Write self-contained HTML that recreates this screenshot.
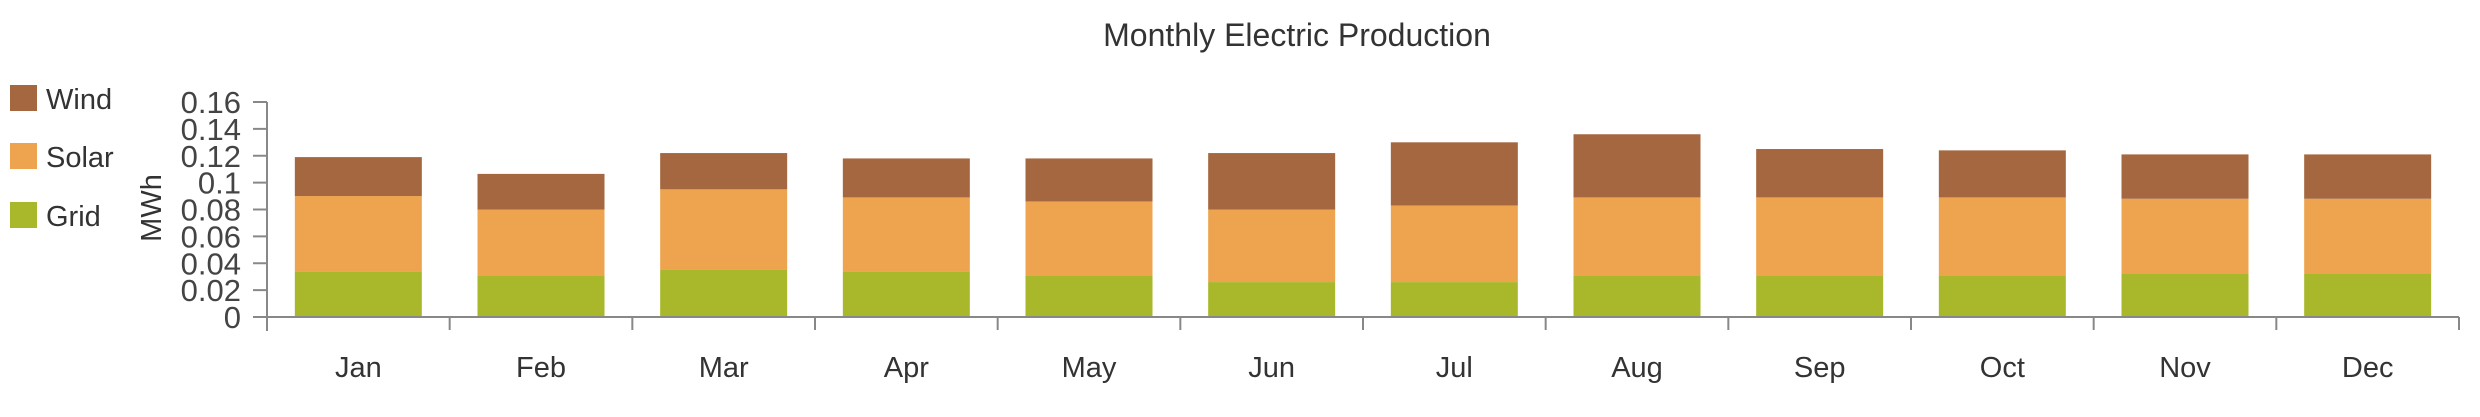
<!DOCTYPE html>
<html><head><meta charset="utf-8"><style>
body{margin:0;background:#fff;width:2480px;height:412px;overflow:hidden;font-family:"Liberation Sans",sans-serif}
</style></head><body>
<svg id="chart" width="2480" height="412" xmlns="http://www.w3.org/2000/svg">
<text x="1297" y="46" text-anchor="middle" font-size="32" fill="#333">Monthly Electric Production</text>
<g>
<rect x="10" y="85" width="27" height="26" fill="#a5673f"/>
<text x="46" y="109" font-size="29" fill="#333">Wind</text>
<rect x="10" y="143" width="27" height="26" fill="#eea44e"/>
<text x="46" y="167" font-size="29" fill="#333">Solar</text>
<rect x="10" y="202" width="27" height="26" fill="#a9b82a"/>
<text x="46" y="226" font-size="29" fill="#333">Grid</text>
</g>
<text transform="translate(161,208) rotate(-90)" text-anchor="middle" font-size="29" fill="#333">MWh</text>
<g id="marks"></g>
</svg>
<script>
const categories=["Jan","Feb","Mar","Apr","May","Jun","Jul","Aug","Sep","Oct","Nov","Dec"];
const grid=[0.034,0.031,0.035,0.034,0.031,0.026,0.026,0.031,0.031,0.031,0.032,0.032];
const solar=[0.056,0.049,0.060,0.055,0.055,0.054,0.057,0.058,0.058,0.058,0.056,0.056];
const wind=[0.029,0.0265,0.027,0.029,0.032,0.042,0.047,0.047,0.036,0.035,0.033,0.033];
const yTicks=[0,0.02,0.04,0.06,0.08,0.1,0.12,0.14,0.16];
const yTickLabels=["0","0.02","0.04","0.06","0.08","0.1","0.12","0.14","0.16"];

const NS="http://www.w3.org/2000/svg";
const g=document.getElementById('marks');
const X0=267,X1=2459,Y0=317,Y1=102,YMAX=0.16;
const band=(X1-X0)/categories.length;
const y=v=>Y0-(v/YMAX)*(Y0-Y1);
const xc=i=>X0+band*(i+0.5);
function mk(tag,attrs){const e=document.createElementNS(NS,tag);for(const k in attrs)e.setAttribute(k,attrs[k]);g.appendChild(e);return e;}
const bw=127;
categories.forEach((c,i)=>{
  const segs=[[grid[i],'#a9b82a','grid'],[solar[i],'#eea44e','solar'],[wind[i],'#a5673f','wind']];
  let base=0;
  segs.forEach(s=>{
    const r=mk('rect',{x:xc(i)-bw/2,y:y(base+s[0]),width:bw,height:y(base)-y(base+s[0]),fill:s[1]});
    
    
    base+=s[0];
  });
  const t=mk('text',{x:xc(i),y:377,'text-anchor':'middle','font-size':29,fill:'#333'});
  t.textContent=c;
  
  
  const tk=mk('line',{x1:X0+band*(i+1),x2:X0+band*(i+1),y1:Y0,y2:Y0+13,stroke:'#888','stroke-width':2});
  
  
});
const xa=mk('line',{x1:X0-14,x2:X1,y1:Y0,y2:Y0,stroke:'#888','stroke-width':2});


const ya=mk('line',{x1:X0,x2:X0,y1:Y1,y2:Y0+14,stroke:'#888','stroke-width':2});


yTicks.forEach((v,i)=>{
  const l=mk('line',{x1:X0-14,x2:X0,y1:y(v),y2:y(v),stroke:'#888','stroke-width':2});
  
  
  const t=mk('text',{x:X0-26,y:y(v)+11,'text-anchor':'end','font-size':31,fill:'#444'});
  t.textContent=yTickLabels[i];
  
  
});
</script>
</body></html>
